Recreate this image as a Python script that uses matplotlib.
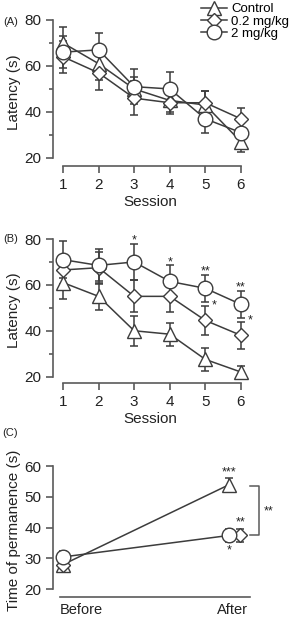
import numpy as np
import matplotlib
matplotlib.use("Agg")
import matplotlib.pyplot as plt
from matplotlib.ticker import MultipleLocator

plt.rcParams['font.family'] = ['Liberation Sans', 'DejaVu Sans']

sessions = [1, 2, 3, 4, 5, 6]
groups = ['Control', '0.2 mg/kg', '2 mg/kg']

# panel A
ctrl_a = [70, 61, 50, 45, 43, 27]
low_a = [64, 57, 46, 44, 44, 37]
high_a = [66, 67, 51, 50, 37, 31]
ctrl_a_se = [7, 7, 5, 5, 6, 4.5]
low_a_se = [7, 7.5, 7.5, 5, 5, 4.5]
high_a_se = [7, 7.5, 7.5, 7.5, 6, 5]

# panel B
ctrl_b = [61, 55, 40, 38.5, 27.5, 22]
low_b = [66.5, 67.5, 55, 55, 44.5, 38]
high_b = [71, 68.5, 70, 61.5, 58.5, 51.5]
ctrl_b_se = [7, 6, 6.5, 5, 5, 2.5]
low_b_se = [6, 7, 7, 7, 6.5, 6]
high_b_se = [8, 7, 8, 7, 6, 6]
stars_high_b = {3: '*', 4: '*', 5: '**', 6: '**'}
stars_low_b = {5: '*', 6: '*'}

# panel C
phases = ['Before', 'After']
ctrl_c = [28, 54]
low_c = [28, 37.5]
high_c = [30.5, 37.5]
ctrl_c_se = [1.5, 2]
low_c_se = [1.5, 2.2]
high_c_se = [2, 2.2]

lc = '#3c3c3c'
sc = '#5a5a5a'
mk = {'Control': ('^', 10), '0.2 mg/kg': ('D', 7), '2 mg/kg': ('o', 10.5)}

fig = plt.figure(figsize=(2.89, 6.2), dpi=100)
axA = fig.add_axes([0.1834, 0.7323, 0.675, 0.2392])
axB = fig.add_axes([0.1834, 0.3818, 0.675, 0.2364])
axC = fig.add_axes([0.1834, 0.0366, 0.685, 0.2166])


def series(ax, x, y, se, name, line=True):
    m, ms = mk[name]
    ax.errorbar(x, y, yerr=se, fmt='none', ecolor=lc, elinewidth=1.1,
                capsize=2.6, capthick=1.1, zorder=2, clip_on=False)
    h, = ax.plot(x, y, color=lc, lw=1.1 if line else 0, marker=m, ms=ms,
                 mfc='white', mec=lc, mew=1.0, zorder=3, clip_on=False, label=name)
    return h


def style(ax, ylab):
    for s in ['top', 'right']:
        ax.spines[s].set_visible(False)
    for s in ['left', 'bottom']:
        ax.spines[s].set_color(sc)
        ax.spines[s].set_linewidth(1.2)
    ax.tick_params(colors=sc, labelcolor='#222222', labelsize=11, width=1.2, length=5)
    ax.tick_params(which='minor', colors=sc, width=1.2, length=3)
    ax.set_ylabel(ylab, fontsize=11, color='#222222', labelpad=2)


for ax, data, lab, ly in [(axA, (ctrl_a, low_a, high_a, ctrl_a_se, low_a_se, high_a_se), '(A)', 0.973),
                          (axB, (ctrl_b, low_b, high_b, ctrl_b_se, low_b_se, high_b_se), '(B)', 0.984)]:
    c, l, h, cse, lse, hse = data
    handles = [series(ax, sessions, c, cse, 'Control'),
               series(ax, sessions, l, lse, '0.2 mg/kg'),
               series(ax, sessions, h, hse, '2 mg/kg')]
    ax.set_xlim(0.72, 6.2)
    ax.set_ylim(16.5, 81)
    ax.spines['left'].set_bounds(20, 80)
    ax.spines['bottom'].set_bounds(1, 6)
    ax.set_xticks(sessions)
    ax.set_yticks([20, 40, 60, 80])
    ax.yaxis.set_minor_locator(MultipleLocator(10))
    style(ax, 'Latency (s)')
    ax.set_xlabel('Session', fontsize=11, color='#222222', labelpad=2)
    ax.text(-0.255, ly, lab, transform=ax.transAxes, fontsize=8, va='center', color='#222222')
    if ax is axA:
        leg_handles = handles

axB.set_ylim(17.1, 81)

for s, t in stars_high_b.items():
    axB.text(s, high_b[s - 1] + high_b_se[s - 1] + 1.5, t, ha='center', va='center',
             fontsize=9, color='#222222')
for s, t in stars_low_b.items():
    axB.text(s + 0.25, low_b[s - 1] + 6.5, t, ha='center', va='center', fontsize=9, color='#222222')

fig.legend(handles=leg_handles, labels=groups, loc='upper left', bbox_to_anchor=(0.695, 0.995),
           frameon=False, fontsize=9.5, handlelength=2.0, handletextpad=0.3,
           labelspacing=0.0, borderaxespad=0, borderpad=0)

# panel C
xc = [0, 1]
series(axC, xc, ctrl_c, ctrl_c_se, 'Control')
series(axC, [0, 1.065], low_c, low_c_se, '0.2 mg/kg', line=False)
series(axC, xc, high_c, high_c_se, '2 mg/kg')
axC.set_xlim(-0.059, 1.13)
axC.set_ylim(17.4, 61)
axC.spines['left'].set_bounds(20, 60)
axC.spines['bottom'].set_bounds(-0.018, 1.124)
axC.set_yticks([20, 30, 40, 50, 60])
axC.set_xticks([])
style(axC, 'Time of permanence (s)')
axC.text(-0.255, 1.22, '(C)', transform=axC.transAxes, fontsize=8, va='center', color='#222222')
for x, t in zip([0.112, 1.018], phases):
    axC.text(x, -0.045, t, transform=axC.get_xaxis_transform(), ha='center', va='top',
             fontsize=10.5, color='#222222')
axC.text(1.0, 57.8, '***', ha='center', va='center', fontsize=9, color='#222222')
axC.text(1.065, 41.8, '**', ha='center', va='center', fontsize=9, color='#222222')
axC.text(1.0, 32.6, '*', ha='center', va='center', fontsize=9, color='#222222')
axC.plot([1.124, 1.178, 1.178, 1.124], [53.5, 53.5, 37.5, 37.5], color=sc, lw=1.1, clip_on=False)
axC.text(1.237, 45.3, '**', ha='center', va='center', fontsize=9, color='#222222')

fig.savefig('out.png', dpi=100)
